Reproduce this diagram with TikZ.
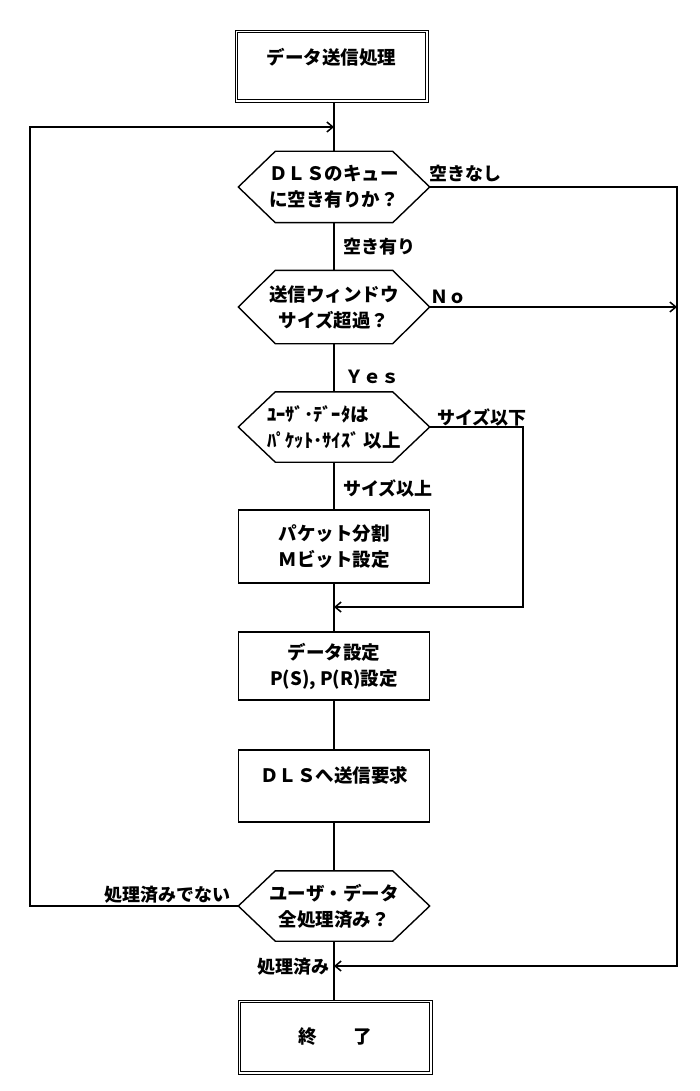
\documentclass[tikz,border=0pt]{standalone}
\usepackage{fontspec}
\setmainfont{Noto Sans CJK JP}
\usetikzlibrary{arrows.meta,calc}
\newcommand\hexoutline[1]{%
  \draw[hexline] (#1.west) -- ([xshift=37pt]#1.north west) -- ([xshift=-37pt]#1.north east)
    -- (#1.east) -- ([xshift=-37pt]#1.south east) -- ([xshift=37pt]#1.south west) -- cycle;}
\newcommand\innerframe[1]{%
  \draw[frameline] ([xshift=3.2pt,yshift=-3.2pt]#1.north west) rectangle ([xshift=-3.2pt,yshift=3.2pt]#1.south east);}
\begin{document}
\begin{tikzpicture}[x=1pt,y=-1pt,
  font=\fontsize{18.5}{26}\selectfont\bfseries,
  flow/.style={line width=1.6pt},
  arr/.style={line width=1.5pt,-{Straight Barb[length=6pt,width=10pt]}},
  hexline/.style={line width=1.4pt,line join=miter},
  frameline/.style={line width=0.9pt},
  procbox/.style={draw,line width=1.2pt,rectangle,minimum width=191pt,inner sep=0pt,align=center},
  termbox/.style={draw,frameline,rectangle,minimum width=193pt,inner sep=0pt,align=center},
  hexa/.style={rectangle,minimum width=191pt,inner sep=0pt,align=center},
  lbl/.style={font=\fontsize{18}{20}\selectfont\bfseries,inner sep=0pt}
]
\useasboundingbox (0,0) rectangle (699,1091);
\fill[white] (0,0) rectangle (699,1091);

% nodes
\node[termbox,minimum height=72pt,text depth=20pt] (start) at (331.5,66) {データ送信処理};
\node[hexa,minimum height=71pt] (h1) at (334,187) {ＤＬＳのキュー\\に空き有りか？};
\node[hexa,minimum height=73pt] (h2) at (334,307) {送信ウィンドウ\\サイズ超過？};
\node[hexa,minimum height=70pt,align=left] (h3) at (334,427) {ﾕｰｻﾞ･ﾃﾞｰﾀは\\ﾊﾟｹｯﾄ･ｻｲｽﾞ 以上};
\node[procbox,minimum height=73pt] (b1) at (334,546.5) {パケット分割\\Ｍビット設定};
\node[procbox,minimum height=68pt] (b2) at (334,666) {データ設定\\P(S), P(R)設定};
\node[procbox,minimum height=72pt,text depth=24pt] (b3) at (334,786) {ＤＬＳへ送信要求};
\node[hexa,minimum height=70pt] (h4) at (334,906) {ユーザ・データ\\全処理済み？};
\node[termbox,minimum height=74pt,minimum width=194pt] (end) at (335,1037) {終　　了};

\innerframe{start}
\innerframe{end}
\hexoutline{h1}
\hexoutline{h2}
\hexoutline{h3}
\hexoutline{h4}

% helper coordinates
\coordinate (lx) at (30,0);
\coordinate (rx) at (677,0);
\coordinate (sx) at (523,0);
\coordinate (entry) at (334,127);
\coordinate (m1) at (334,607);
\coordinate (m2) at (334,966);

% main column
\draw[flow] (start.south -| h1.north) -- (h1.north);
\draw[flow] (h1.south) -- (h2.north);
\draw[flow] (h2.south) -- (h3.north);
\draw[flow] (h3.south) -- (b1.north);
\draw[flow] (b1.south) -- (b2.north);
\draw[flow] (b2.south) -- (b3.north);
\draw[flow] (b3.south) -- (h4.north);
\draw[flow] (h4.south) -- (end.north -| h4.south);

% branches
\draw[arr] (h4.west) -- (h4.west -| lx) -- (lx |- entry) -- (entry);
\draw[arr] (h1.east) -- (h1.east -| rx) -- (rx |- m2) -- (m2);
\draw[arr] (h2.east) -- (h2.east -| rx);
\draw[arr] (h3.east) -- (h3.east -| sx) -- (sx |- m1) -- (m1);

% labels
\node[lbl,anchor=west] (l1) at (429,173) {空きなし};
\node[lbl,anchor=west] (l2) at (343,247) {空き有り};
\node[lbl,anchor=west] (l3) at (430,297) {Ｎｏ};
\node[lbl,anchor=west] (l4) at (345,377) {Ｙｅｓ};
\node[lbl,anchor=west] (l5) at (437,417) {サイズ以下};
\node[lbl,anchor=west] (l6) at (343,488) {サイズ以上};
\node[lbl,anchor=east] (l7) at (231,895) {処理済みでない};
\node[lbl,anchor=east] (l8) at (330,967) {処理済み};
\end{tikzpicture}
\end{document}
